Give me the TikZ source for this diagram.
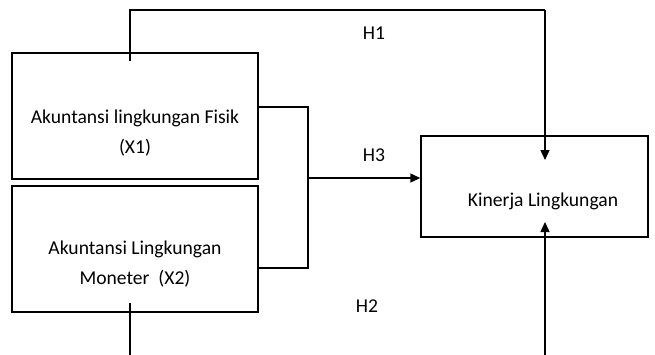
\documentclass[tikz,border=0pt]{standalone}
\usepackage{fontspec}
\setmainfont{Carlito}
\usetikzlibrary{arrows.meta}
\begin{document}
\begin{tikzpicture}[x=1pt,y=-1pt,
  box/.style={draw,line width=1.5pt,rectangle,inner sep=0pt},
  txt/.style={font=\fontsize{19.6}{30}\selectfont,align=center,inner sep=0pt},
  hlab/.style={font=\fontsize{19.6}{22}\selectfont,inner sep=0pt},
  wire/.style={line width=1.5pt},
  arr/.style={wire,-{Triangle[length=10pt,width=9pt]}}]
\useasboundingbox (0,0) rectangle (655,354);
% variable boxes
\node[box,minimum width=246pt,minimum height=126pt] (x1) at (135,116) {};
\node[box,minimum width=246pt,minimum height=126pt] (x2) at (135,249) {};
\node[box,minimum width=227pt,minimum height=101pt] (y) at (534.5,186.5) {};
% box texts
\node[txt] (x1t) at (135,133) {Akuntansi lingkungan Fisik\\(X1)};
\node[txt] (x2t) at (135,264) {Akuntansi Lingkungan\\Moneter~~(X2)};
\node[txt] (yt) at (543,201) {Kinerja Lingkungan};
% connector end points
\coordinate (h1a) at (130,61);
\coordinate (h1b) at (545,160);
\coordinate (h2a) at (130,303);
\coordinate (h2b) at (545,222);
\coordinate (h2c) at (130,360);
\coordinate (h2d) at (545,360);
\coordinate (b1) at (258,107);
\coordinate (b2) at (258,268);
\coordinate (bm) at (308,178);
% H1
\draw[wire] (h1a) -- (130,10) -- (545,10);
\draw[arr] (545,10) -- (h1b);
% H2
\draw[wire] (h2a) -- (h2c);
\draw[arr] (h2d) -- (h2b);
% H3 bracket
\draw[wire] (b1) -| (bm) |- (b2);
\draw[arr] (bm) -- (y.west |- bm);
% labels
\node[hlab] (l1) at (374,33) {H1};
\node[hlab] (l3) at (374,155) {H3};
\node[hlab] (l2) at (367,306) {H2};
\end{tikzpicture}
\end{document}
